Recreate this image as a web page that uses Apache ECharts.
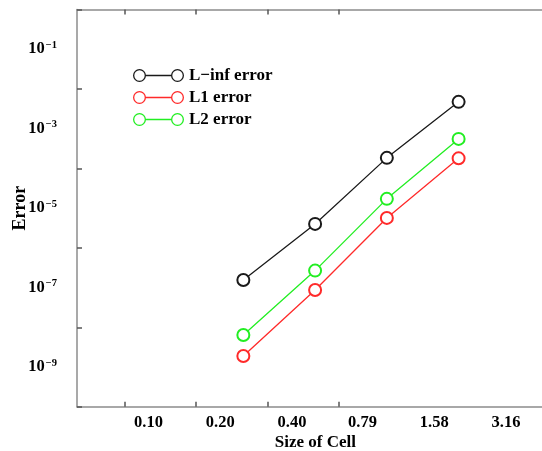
<!DOCTYPE html>
<html>
<head>
<meta charset="utf-8">
<script src="https://cdn.jsdelivr.net/npm/echarts@6/dist/echarts.min.js"></script>
<style>html,body{margin:0;padding:0;background:#fff}#c{width:542px;height:451px}</style>
</head>
<body>
<div id="c"></div>
<script>
// ---- data ----
var cellSizes = [0.25, 0.5, 1, 2];
var lInfError = [1.55e-7, 4.0e-6, 1.84e-4, 4.73e-3];
var l1Error   = [1.89e-9, 8.7e-8, 5.66e-6, 1.79e-4];
var l2Error   = [6.4e-9, 2.67e-7, 1.71e-5, 5.53e-4];
var seriesNames = ['L\u2212inf error', 'L1 error', 'L2 error'];
var xTickLabels = ['0.10', '0.20', '0.40', '0.79', '1.58', '3.16'];
var xTickMarks = [0.0794, 0.158, 0.316, 0.631];
var yLabelExps = [-9, -7, -5, -3, -1];
var yTickExps = [-10, -8, -6, -4, -2, 0];

var colors = ['#1a1a1a', '#ff2a2a', '#22ee22'];
var FONT = '"Liberation Serif","Times New Roman",serif';
var AXIS_COLOR = '#8c8c8c';

var xMinExp = -1.3, xMaxExp = 0.7;
var xLabelExps = xTickLabels.map(function (s) { return Math.log10(parseFloat(s)); });
var xTickExps = xTickMarks.map(function (v) { return Math.log10(v); });

function pairs(arr) { return cellSizes.map(function (x, i) { return [x, arr[i]]; }); }

var legendIcon = 'path://M0,6.5 A6.5,6.5 0 1,1 13,6.5 A6.5,6.5 0 1,1 0,6.5 Z ' +
  'M1.3,6.5 A5.2,5.2 0 1,0 11.7,6.5 A5.2,5.2 0 1,0 1.3,6.5 Z ' +
  'M12.8,5.85 L38.2,5.85 L38.2,7.15 L12.8,7.15 Z ' +
  'M38,6.5 A6.5,6.5 0 1,1 51,6.5 A6.5,6.5 0 1,1 38,6.5 Z ' +
  'M39.3,6.5 A5.2,5.2 0 1,0 49.7,6.5 A5.2,5.2 0 1,0 39.3,6.5 Z';

var allData = [lInfError, l1Error, l2Error];
var tickStyle = {color: '#555', width: 1.5};

var chart = echarts.init(document.getElementById('c'), null, {renderer: 'canvas'});
var option = {
  animation: false,
  backgroundColor: '#ffffff',
  grid: {left: 77, top: 9.5, width: 476.7, height: 397.2, containLabel: false, outerBoundsMode: 'none'},
  legend: {
    left: 133, top: 67, orient: 'vertical', padding: 0,
    itemWidth: 51, itemHeight: 13, itemGap: 5,
    icon: legendIcon,
    textStyle: {fontFamily: FONT, fontWeight: 'bold', fontSize: 17, color: '#000'},
    data: seriesNames.map(function (n, i) {
      return {name: n, icon: legendIcon, itemStyle: {color: colors[i], borderWidth: 0}};
    })
  },
  xAxis: [
    {
      type: 'log', logBase: 10, min: Math.pow(10, xMinExp), max: Math.pow(10, xMaxExp),
      position: 'bottom',
      axisLine: {show: true, onZero: false, lineStyle: {color: AXIS_COLOR, width: 1.5}},
      axisTick: {show: false}, axisLabel: {show: false}, splitLine: {show: false},
      name: 'Size of Cell', nameLocation: 'middle', nameGap: 27,
      nameTextStyle: {fontFamily: FONT, fontWeight: 'bold', fontSize: 17, color: '#000'}
    },
    {
      type: 'value', min: xMinExp, max: xMaxExp, position: 'bottom',
      axisLine: {show: false, onZero: false},
      axisTick: {show: true, inside: true, length: 5, customValues: xTickExps, lineStyle: tickStyle},
      axisLabel: {
        show: true, margin: 8, customValues: xLabelExps,
        fontFamily: FONT, fontWeight: 'bold', fontSize: 16.5, color: '#000',
        formatter: function (v) {
          var best = 0;
          for (var i = 1; i < xLabelExps.length; i++) {
            if (Math.abs(xLabelExps[i] - v) < Math.abs(xLabelExps[best] - v)) best = i;
          }
          return xTickLabels[best];
        }
      },
      splitLine: {show: false}
    },
    {
      type: 'value', min: xMinExp, max: xMaxExp, position: 'top',
      axisLine: {show: true, onZero: false, lineStyle: {color: AXIS_COLOR, width: 1.5}},
      axisTick: {show: true, inside: true, length: 5, customValues: xTickExps, lineStyle: tickStyle},
      axisLabel: {show: false}, splitLine: {show: false}
    }
  ],
  yAxis: [
    {
      type: 'log', logBase: 10, min: 1e-10, max: 1, position: 'left',
      axisLine: {show: true, onZero: false, lineStyle: {color: AXIS_COLOR, width: 1.5}},
      axisTick: {show: false}, axisLabel: {show: false}, splitLine: {show: false},
      name: 'Error', nameLocation: 'middle', nameGap: 48, nameRotate: 90,
      nameTextStyle: {fontFamily: FONT, fontWeight: 'bold', fontSize: 18, color: '#000'}
    },
    {
      type: 'value', min: -10, max: 0, position: 'left',
      axisLine: {show: false, onZero: false},
      axisTick: {show: true, inside: true, length: 5, customValues: yTickExps, lineStyle: tickStyle},
      axisLabel: {
        show: true, margin: 20, customValues: yLabelExps,
        formatter: function (v) {
          var e = Math.round(v);
          return '{b|10}{s|' + (e < 0 ? '\u2212' : '') + Math.abs(e) + '}';
        },
        rich: {
          b: {fontFamily: FONT, fontWeight: 'bold', fontSize: 16.5, color: '#000'},
          s: {fontFamily: FONT, fontWeight: 'bold', fontSize: 10.5, color: '#000', verticalAlign: 'top', padding: [0, 0, 8, 1]}
        }
      },
      splitLine: {show: false}
    }
  ],
  series: seriesNames.map(function (n, i) {
    return {
      name: n, type: 'line', xAxisIndex: 0, yAxisIndex: 0,
      data: pairs(allData[i]),
      symbol: 'emptyCircle', symbolSize: 12,
      lineStyle: {color: colors[i], width: 1.3},
      itemStyle: {color: colors[i], borderColor: colors[i], borderWidth: 1.4},
      z: 3 - i
    };
  })
};
chart.setOption(option);
</script>
</body>
</html>
